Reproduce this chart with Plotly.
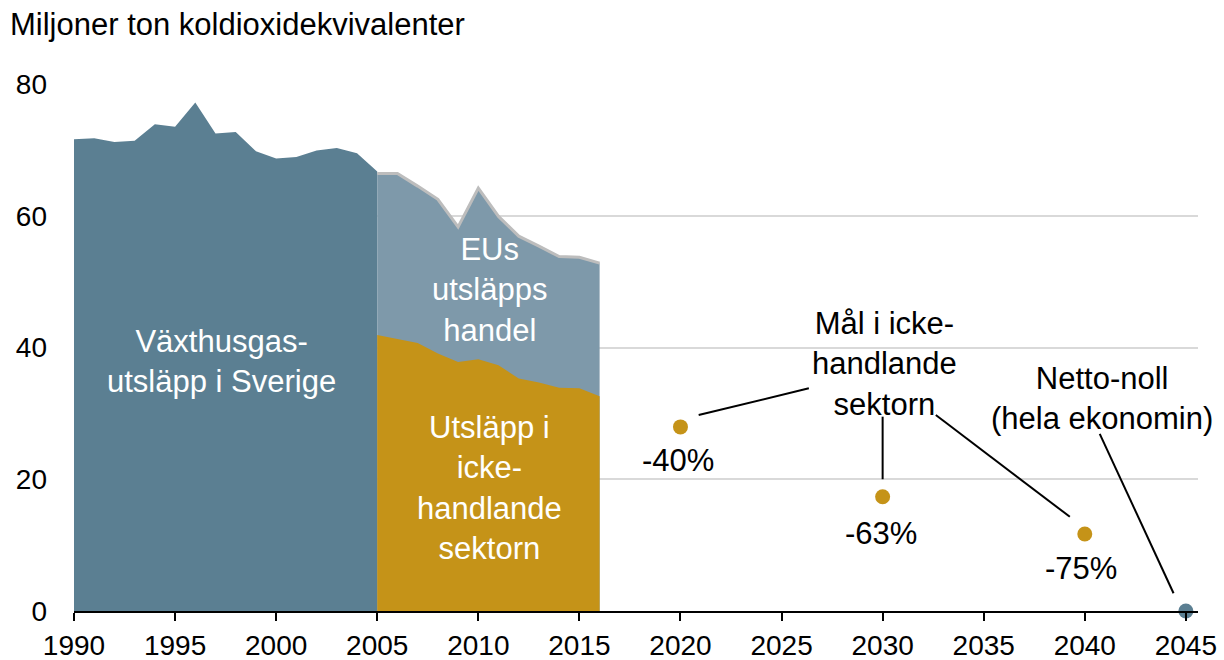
import plotly.graph_objects as go

# ---- data ----
years_hist = list(range(1990, 2006))
total_hist = [71.6, 71.75, 71.2, 71.4, 73.9, 73.5, 77.2, 72.5, 72.7, 69.8,
              68.7, 68.9, 69.9, 70.3, 69.5, 66.7]
years_split = list(range(2005, 2017))
non_trading = [41.9, 41.3, 40.7, 39.1, 37.8, 38.2, 37.3, 35.3, 34.7, 33.9, 33.8, 32.6]
total_split = [66.4, 66.4, 64.5, 62.5, 58.3, 64.2, 59.9, 56.9, 55.4, 53.8, 53.7, 52.8]
target_years = [2020, 2030, 2040]
target_values = [27.95, 17.35, 11.7]
target_labels = ["-40%", "-63%", "-75%"]
netzero_year = [2045]
netzero_value = [0]
x_ticks = list(range(1990, 2046, 5))
y_ticks = [0, 20, 40, 60, 80]

DARK = "#5B7F92"
LIGHT = "#7E99AA"
GOLD = "#C59318"
GREY = "#BDBDBD"
FONT = "Liberation Sans, Arial, sans-serif"
FS = 31
TFS = 28

fig = go.Figure()
fig.add_trace(go.Scatter(x=years_hist, y=total_hist, mode="lines", line=dict(width=0, color=DARK),
                         fill="tozeroy", fillcolor=DARK, hoverinfo="skip"))
fig.add_trace(go.Scatter(x=years_split, y=total_split, mode="lines", line=dict(width=0, color=LIGHT),
                         fill="tozeroy", fillcolor=LIGHT, hoverinfo="skip"))
fig.add_trace(go.Scatter(x=years_split, y=non_trading, mode="lines", line=dict(width=0, color=GOLD),
                         fill="tozeroy", fillcolor=GOLD, hoverinfo="skip"))
fig.add_trace(go.Scatter(x=years_split, y=total_split, mode="lines", line=dict(width=3, color=GREY),
                         hoverinfo="skip"))
fig.add_trace(go.Scatter(x=target_years, y=target_values, mode="markers",
                         marker=dict(size=15, color=GOLD), hoverinfo="skip"))
fig.add_trace(go.Scatter(x=netzero_year, y=netzero_value, mode="markers",
                         marker=dict(size=15, color=DARK), hoverinfo="skip", cliponaxis=False))

annotations = []
def txt(x, y, text, color="black", size=FS):
    annotations.append(dict(x=x, y=y, xref="x", yref="y", text=text, showarrow=False,
                            font=dict(family=FONT, size=size, color=color), align="center",
                            xanchor="center", yanchor="middle"))

txt(1997.3, 37.8, "Växthusgas-<br>utsläpp i Sverige", "white")
txt(2010.57, 48.7, "EUs<br>utsläpps<br>handel", "white")
txt(2010.57, 18.7, "Utsläpp i<br>icke-<br>handlande<br>sektorn", "white")
txt(2030.1, 37.5, "Mål i icke-<br>handlande<br>sektorn")
txt(2040.84, 32.3, "Netto-noll<br>(hela ekonomin)")
label_pos = [(2019.86, 22.9), (2029.9, 11.8), (2039.83, 6.5)]
for (lx, ly), lab in zip(label_pos, target_labels):
    txt(lx, ly, lab)

shapes = []
for (x0, y0, x1, y1) in [(2020.9, 29.75, 2026.35, 33.8),
                         (2030.0, 29.5, 2030.0, 20.0),
                         (2032.63, 29.75, 2039.26, 14.3),
                         (2040.74, 26.9, 2044.39, 2.7)]:
    shapes.append(dict(type="line", xref="x", yref="y", x0=x0, y0=y0, x1=x1, y1=y1,
                       line=dict(color="black", width=2)))

fig.update_layout(
    width=1224, height=660,
    margin=dict(l=74, r=26, t=84, b=49, autoexpand=False),
    paper_bgcolor="white", plot_bgcolor="white",
    showlegend=False,
    font=dict(family=FONT, size=FS, color="black"),
    title=dict(text="Miljoner ton koldioxidekvivalenter", xref="container", yref="container",
               x=10 / 1224, xanchor="left", y=1 - 24 / 660, yanchor="middle", pad=dict(l=0, r=0, t=0, b=0),
               font=dict(family=FONT, size=FS, color="black")),
    annotations=annotations,
    shapes=shapes,
    xaxis=dict(range=[1990, 2045.6], tickvals=x_ticks, ticktext=[str(v) for v in x_ticks],
               automargin=False,
               showgrid=False, zeroline=False, showline=True, linecolor="black", linewidth=2,
               ticks="outside", ticklen=8, tickwidth=2, tickcolor="black", ticklabelstandoff=0,
               tickfont=dict(family=FONT, size=TFS, color="black")),
    yaxis=dict(range=[0, 80], tickvals=y_ticks, showgrid=True, gridcolor="#D9D9D9", gridwidth=2,
               automargin=False,
               zeroline=False, showline=False, ticks="", ticklabelstandoff=26,
               tickfont=dict(family=FONT, size=TFS, color="black")),
)
fig.write_html("out.html", config={"displayModeBar": False},
               post_script="document.body.style.margin='0';document.body.style.overflow='hidden';")
